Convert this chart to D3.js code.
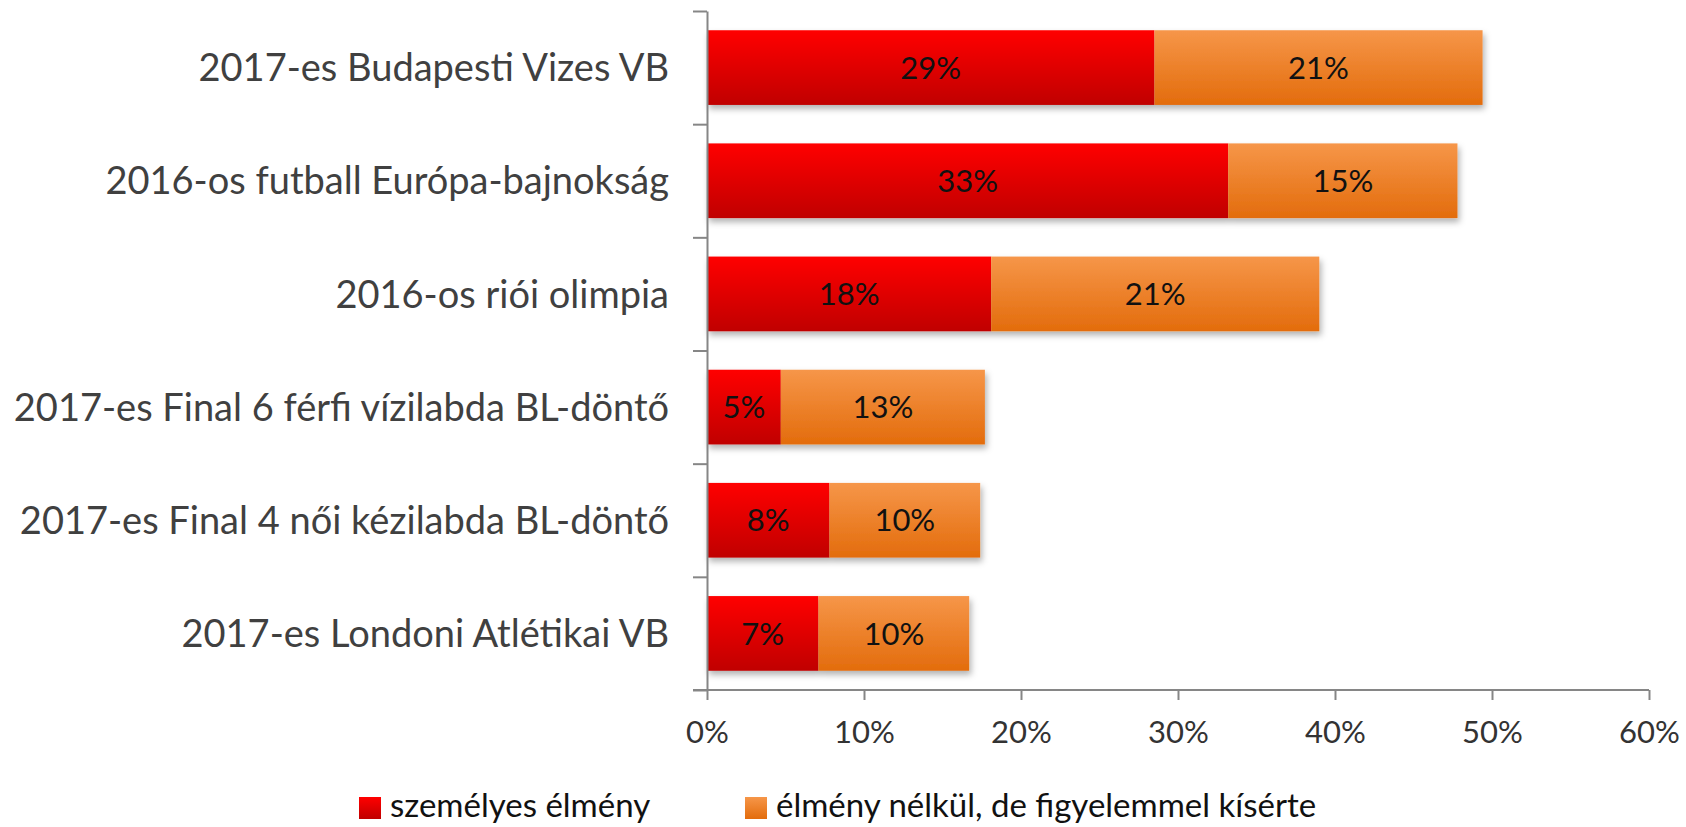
<!DOCTYPE html>
<html>
<head>
	<meta charset="utf-8" />
	<title>Sportesemények</title>
	<script src="https://d3js.org/d3.v7.min.js"></script>
	<style type="text/css">
		body { margin: 0; background: #fff; }
		text { font-family: Lato, "Open Sans", sans-serif; }
	</style>
</head>
<body>
	<div id="chart"></div>
	<script>
		const categories = [
			"2017-es Budapesti Vizes VB",
			"2016-os futball Európa-bajnokság",
			"2016-os riói olimpia",
			"2017-es Final 6 férfi vízilabda BL-döntő",
			"2017-es Final 4 női kézilabda BL-döntő",
			"2017-es Londoni Atlétikai VB"
		];
		// percentages
		const personal = [28.5, 33.2, 18.1, 4.7, 7.8, 7.1];
		const watched = [20.9, 14.6, 20.9, 13.0, 9.6, 9.6];
		const xTicks = [0, 10, 20, 30, 40, 50, 60];
		const seriesNames = ["személyes élmény", "élmény nélkül, de figyelemmel kísérte"];

		const width = 1686;
		const height = 827;
		const fontSize = 31;

		const svg = d3.select("#chart")
			.append("svg")
			.attr("width", width)
			.attr("height", height);

		const defs = svg.append("defs");
		const grads = [
			{id: "gRed", top: "#ff0000", bottom: "#c00000"},
			{id: "gOrange", top: "#f69649", bottom: "#e36c0c"}
		];
		grads.forEach(g => {
			const lg = defs.append("linearGradient")
				.attr("id", g.id)
				.attr("x1", 0).attr("y1", 0).attr("x2", 0).attr("y2", 1);
			lg.append("stop").attr("offset", "0%").attr("stop-color", g.top);
			lg.append("stop").attr("offset", "100%").attr("stop-color", g.bottom);
		});
		defs.append("filter")
			.attr("id", "shadow")
			.attr("x", "-10%").attr("y", "-20%").attr("width", "130%").attr("height", "160%")
			.append("feDropShadow")
			.attr("dx", 2).attr("dy", 4)
			.attr("stdDeviation", 3)
			.attr("flood-color", "#000")
			.attr("flood-opacity", 0.3);

		const x = d3.scaleLinear()
			.domain([0, 60])
			.range([707, 1649]);

		const y = d3.scaleBand()
			.domain(categories)
			.range([11, 690])
			.paddingInner(0.34)
			.paddingOuter(0.17);

		const yIdx = d3.scaleLinear()
			.domain([0, categories.length])
			.range([11, 690]);

		const axisColor = "#868686";

		// bars
		const rows = categories.map((c, i) => ({cat: c, a: personal[i], b: watched[i]}));
		const barG = svg.append("g");
		const row = barG.selectAll("g.row")
			.data(rows)
			.enter()
			.append("g")
			.attr("class", "row")
			.attr("filter", "url(#shadow)");

		row.append("rect")
			.attr("x", d => x(0))
			.attr("y", d => y(d.cat))
			.attr("width", d => x(d.a) - x(0))
			.attr("height", y.bandwidth())
			.attr("fill", "url(#gRed)");

		row.append("rect")
			.attr("x", d => x(d.a))
			.attr("y", d => y(d.cat))
			.attr("width", d => x(d.a + d.b) - x(d.a))
			.attr("height", y.bandwidth())
			.attr("fill", "url(#gOrange)");

		// value labels
		const fmt = v => Math.round(v) + "%";
		const lab = svg.append("g")
			.attr("font-size", fontSize)
			.attr("fill", "#111")
			.attr("text-anchor", "middle");
		rows.forEach(d => {
			lab.append("text")
				.attr("x", (x(0) + x(d.a)) / 2)
				.attr("y", y(d.cat) + y.bandwidth() / 2)
				.attr("dy", "0.36em")
				.text(fmt(d.a));
			lab.append("text")
				.attr("x", (x(d.a) + x(d.a + d.b)) / 2)
				.attr("y", y(d.cat) + y.bandwidth() / 2)
				.attr("dy", "0.36em")
				.text(fmt(d.b));
		});

		// y axis (ticks between categories)
		const yAxis = svg.append("g")
			.attr("transform", "translate(" + x(0) + ",0)")
			.call(d3.axisLeft(yIdx).ticks(categories.length).tickSize(14).tickSizeOuter(0).tickFormat(""));
		yAxis.selectAll("line, path").attr("stroke", axisColor).attr("stroke-width", 2);

		// category labels
		svg.append("g")
			.attr("font-size", 38)
			.attr("fill", "#404040")
			.attr("text-anchor", "end")
			.selectAll("text")
			.data(categories)
			.enter()
			.append("text")
			.attr("x", 669)
			.attr("y", d => y(d) + y.bandwidth() / 2)
			.attr("dy", "0.36em")
			.text(d => d);

		// x axis
		const xAxis = svg.append("g")
			.attr("transform", "translate(0,690)")
			.call(d3.axisBottom(x).tickValues(xTicks).tickSize(10).tickPadding(21).tickSizeOuter(0).tickFormat(d => d + "%"));
		xAxis.select(".domain").remove();
		xAxis.append("line")
			.attr("x1", x(0) - 14).attr("x2", x(60))
			.attr("y1", 0).attr("y2", 0);
		xAxis.selectAll("line").attr("stroke", axisColor).attr("stroke-width", 2);
		xAxis.selectAll("text")
			.attr("font-size", fontSize)
			.attr("font-family", "Lato, sans-serif")
			.attr("fill", "#333");

		// legend
		const legendX = [359, 745];
		const legend = svg.append("g");
		seriesNames.forEach((name, i) => {
			legend.append("rect")
				.attr("x", legendX[i])
				.attr("y", 797)
				.attr("width", 22)
				.attr("height", 22)
				.attr("fill", i === 0 ? "url(#gRed)" : "url(#gOrange)");
			legend.append("text")
				.attr("x", legendX[i] + 31)
				.attr("y", 805)
				.attr("dy", "0.36em")
				.attr("font-size", 33)
				.attr("fill", "#111")
				.text(name);
		});
	</script>
</body>
</html>
